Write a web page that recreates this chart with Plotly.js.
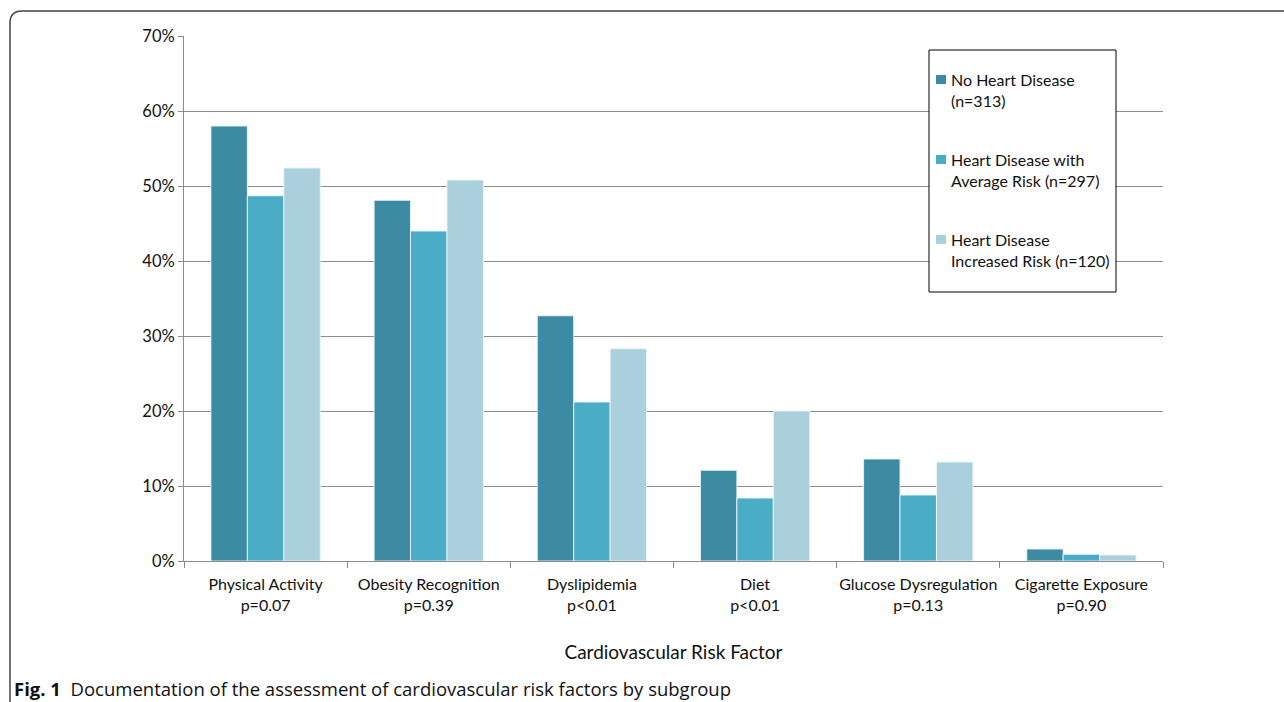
<!DOCTYPE html>
<html>
<head>
<meta charset="utf-8">
<script src="https://cdn.plot.ly/plotly-3.0.1.min.js"></script>
<style>
  html, body { margin: 0; padding: 0; background: #fff; }
  #chart { width: 1284px; height: 702px; }
</style>
</head>
<body>
<div id="chart"></div>
<script>
const categories = [
  "Physical Activity<br>p=0.07",
  "Obesity Recognition<br>p=0.39",
  "Dyslipidemia<br>p<0.01",
  "Diet<br>p<0.01",
  "Glucose Dysregulation<br>p=0.13",
  "Cigarette Exposure<br>p=0.90"
];
const seriesNames = [
  "No Heart Disease<br>(n=313)",
  "Heart Disease with<br>Average Risk (n=297)",
  "Heart Disease<br>Increased Risk (n=120)"
];
const noHeartDisease = [58.0, 48.1, 32.7, 12.1, 13.6, 1.6];
const averageRisk = [48.7, 44.0, 21.2, 8.4, 8.8, 0.9];
const increasedRisk = [52.4, 50.8, 28.3, 20.0, 13.2, 0.8];
const yTickVals = [0, 10, 20, 30, 40, 50, 60, 70];
const yTickText = ["0%", "10%", "20%", "30%", "40%", "50%", "60%", "70%"];

const colors = ["#3d8ba3", "#4bacc6", "#aacfdd"];
const seriesValues = [noHeartDisease, averageRisk, increasedRisk];

const traces = seriesValues.map((vals, i) => ({
  type: "bar",
  name: seriesNames[i],
  x: categories,
  y: vals,
  marker: { color: colors[i], line: { color: "rgba(235,245,250,0.9)", width: 1 } },
  showlegend: false,
  hoverinfo: "skip"
}));

const font = "Lato, 'Liberation Sans', sans-serif";

// pixel -> paper conversion helpers (plot area 184..1163 x, 36..561 y)
const L = 184, T = 36, pw = 979, ph = 525;
const px = x => (x - L) / pw;
const py = y => (T + ph - y) / ph;

const rx = 12, ry = 12;
const framePath = `M ${px(10)},${py(705)} L ${px(10)},${py(11 + ry)} Q ${px(10)},${py(11)} ${px(10 + rx)},${py(11)} L ${px(1300)},${py(11)}`;

const shapes = [
  { type: "path", xref: "paper", yref: "paper", path: framePath,
    line: { color: "#444444", width: 1.5 }, layer: "above" },
  // legend box
  { type: "rect", xref: "paper", yref: "paper",
    x0: px(929), x1: px(1116), y0: py(292), y1: py(50),
    fillcolor: "#ffffff", line: { color: "#000000", width: 1 }, layer: "above" }
];
const annotations = [
  { xref: "paper", yref: "paper", x: px(12), y: py(688), xanchor: "left", yanchor: "middle",
    showarrow: false, align: "left",
    text: "<b>Fig. 1</b>  Documentation of the assessment of cardiovascular risk factors by subgroup",
    font: { family: "'Open Sans', sans-serif", size: 18.5, color: "#111111" } }
];

// legend entries
const legendTop = [75, 155, 235];
seriesNames.forEach((name, i) => {
  const t = legendTop[i];
  shapes.push({ type: "rect", xref: "paper", yref: "paper",
    x0: px(936), x1: px(946), y0: py(t + 9), y1: py(t),
    fillcolor: colors[i], line: { width: 0 }, layer: "above" });
  annotations.push({ xref: "paper", yref: "paper", x: px(949), y: py(t + 15),
    xanchor: "left", yanchor: "middle", showarrow: false, align: "left",
    text: name, font: { family: font, size: 16, color: "#111111" } });
});

const layout = {
  width: 1284,
  height: 702,
  margin: { l: 184, r: 121, t: 36, b: 141 },
  paper_bgcolor: "#ffffff",
  plot_bgcolor: "#ffffff",
  font: { family: font, size: 16, color: "#111111" },
  barmode: "group",
  bargap: 0.33,
  bargroupgap: 0,
  showlegend: false,
  xaxis: {
    type: "category",
    showgrid: false,
    showline: true,
    linecolor: "#8c8c8c",
    linewidth: 1,
    ticks: "outside",
    tickson: "boundaries",
    ticklen: 6,
    tickcolor: "#8c8c8c",
    tickangle: 0,
    ticklabelstandoff: 9,
    tickfont: { family: font, size: 16, color: "#111111" },
    title: { text: "Cardiovascular Risk Factor", font: { family: font, size: 19, color: "#111111" }, standoff: 32 },
    fixedrange: true
  },
  yaxis: {
    range: [0, 70],
    tickvals: yTickVals,
    ticktext: yTickText,
    showgrid: true,
    gridcolor: "#8c8c8c",
    gridwidth: 1,
    showline: true,
    linecolor: "#8c8c8c",
    linewidth: 1,
    ticks: "outside",
    ticklen: 5,
    tickcolor: "#8c8c8c",
    tickfont: { family: font, size: 16.5, color: "#111111" },
    zeroline: false,
    fixedrange: true
  },
  shapes: shapes,
  annotations: annotations
};

Plotly.newPlot("chart", traces, layout, { displayModeBar: false, staticPlot: true });
</script>
</body>
</html>
